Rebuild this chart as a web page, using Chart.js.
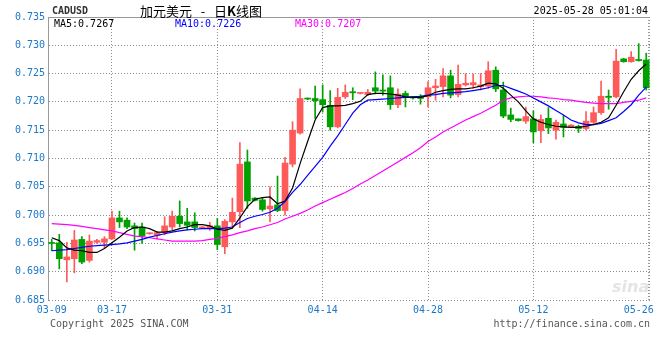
<!DOCTYPE html>
<html>
<head>
<meta charset="utf-8">
<title>CADUSD 日K线图</title>
<script src="https://cdn.jsdelivr.net/npm/chart.js@4.4.1/dist/chart.umd.min.js"></script>
<style>
  body { margin: 0; background: #fff; }
  #wrap { position: relative; width: 660px; height: 360px; font-family: 'DejaVu Sans Mono', monospace; font-size: 10px; }
  #wrap canvas { position: absolute; left: 0; top: 0; }
  .txt { position: absolute; white-space: pre; line-height: 12px; }
</style>
</head>
<body>
<div id="wrap">
  <canvas id="chart1" width="660" height="360"></canvas>
  <div class="txt" style="left:52px;top:5px;font-weight:bold;color:#333;">CADUSD</div>
  <div class="txt" style="left:140px;top:3px;font-family:'Noto Sans CJK SC';font-size:13px;line-height:15px;color:#000;">加元美元   -   日<b>K</b>线图</div>
  <div class="txt" style="right:12px;top:5px;color:#000;">2025-05-28 05:01:04</div>
  <div class="txt" id="lg5" style="left:54px;top:18px;color:#000;"></div>
  <div class="txt" id="lg10" style="left:175px;top:18px;color:#0000ff;"></div>
  <div class="txt" id="lg30" style="left:295px;top:18px;color:#ff00ff;"></div>
  <div class="txt" style="left:612px;top:278px;font-family:'DejaVu Sans';font-style:italic;font-weight:bold;font-size:16px;line-height:18px;color:#e4e4e4;">sina</div>
  <div class="txt" style="left:50px;top:318px;color:#555;">Copyright 2025 SINA.COM</div>
  <div class="txt" style="right:10px;top:318px;color:#555;">http://finance.sina.com.cn</div>
</div>
<script>
// dates (one candle per day)
const days = [
  '03-09','03-10','03-11','03-12','03-13','03-14','03-15','03-16','03-17','03-18',
  '03-19','03-20','03-21','03-22','03-23','03-24','03-25','03-26','03-27','03-28',
  '03-29','03-30','03-31','04-01','04-02','04-03','04-04','04-05','04-06','04-07',
  '04-08','04-09','04-10','04-11','04-12','04-13','04-14','04-15','04-16','04-17',
  '04-18','04-19','04-20','04-21','04-22','04-23','04-24','04-25','04-26','04-27',
  '04-28','04-29','04-30','05-01','05-02','05-03','05-04','05-05','05-06','05-07',
  '05-08','05-09','05-10','05-11','05-12','05-13','05-14','05-15','05-16','05-17',
  '05-18','05-19','05-20','05-21','05-22','05-23','05-24','05-25','05-26','05-27'
];
const tickDays = ['03-09','03-17','03-31','04-14','04-28','05-12','05-26'];
const gridDays = ['03-17','03-31','04-14','04-28','05-12'];

const opens = [
  0.6951,0.6951,0.6921,0.6923,0.6957,0.6920,0.6952,0.6952,0.6958,0.6995,
  0.6991,0.6981,0.6979,0.6967,0.6964,0.6969,0.6979,0.6998,0.6988,0.6988,
  0.6977,0.6977,0.6981,0.6944,0.6988,0.7006,0.7094,0.7030,0.7027,0.7011,
  0.7018,0.7008,0.7090,0.7145,0.7206,0.7206,0.7204,0.7194,0.7156,0.7209,
  0.7218,0.7215,0.7213,0.7225,0.7221,0.7225,0.7195,0.7215,0.7208,0.7210,
  0.7209,0.7225,0.7227,0.7246,0.7213,0.7230,0.7230,0.7227,0.7228,0.7256,
  0.7221,0.7177,0.7170,0.7166,0.7170,0.7149,0.7171,0.7150,0.7161,0.7156,
  0.7157,0.7153,0.7164,0.7181,0.7210,0.7209,0.7276,0.7271,0.7275,0.7274
];
const closes = [
  0.6950,0.6923,0.6926,0.6956,0.6917,0.6954,0.6955,0.6958,0.6995,0.6988,
  0.6979,0.6976,0.6963,0.6968,0.6969,0.6981,0.6998,0.6985,0.6982,0.6978,
  0.6979,0.6981,0.6948,0.6989,0.7005,0.7090,0.7025,0.7026,0.7010,0.7016,
  0.7008,0.7092,0.7150,0.7206,0.7205,0.7202,0.7195,0.7156,0.7208,0.7217,
  0.7216,0.7216,0.7217,0.7219,0.7219,0.7195,0.7214,0.7209,0.7207,0.7206,
  0.7225,0.7228,0.7246,0.7212,0.7231,0.7233,0.7234,0.7230,0.7255,0.7223,
  0.7175,0.7169,0.7167,0.7174,0.7147,0.7169,0.7154,0.7164,0.7155,0.7159,
  0.7153,0.7166,0.7181,0.7210,0.7208,0.7272,0.7271,0.7279,0.7273,0.7225
];
const highs = [
  0.6957,0.6966,0.6952,0.6973,0.6962,0.6965,0.6957,0.6962,0.7007,0.7007,
  0.6995,0.6986,0.6986,0.6969,0.6971,0.6997,0.7007,0.7025,0.7012,0.7004,
  0.6980,0.6987,0.6994,0.6992,0.7030,0.7128,0.7115,0.7031,0.7031,0.7050,
  0.7069,0.7102,0.7165,0.7223,0.7207,0.7228,0.7230,0.7220,0.7224,0.7230,
  0.7225,0.7217,0.7222,0.7253,0.7248,0.7246,0.7223,0.7219,0.7210,0.7213,
  0.7236,0.7240,0.7259,0.7256,0.7265,0.7250,0.7249,0.7250,0.7271,0.7262,
  0.7235,0.7189,0.7170,0.7191,0.7184,0.7177,0.7190,0.7168,0.7176,0.7160,
  0.7159,0.7183,0.7191,0.7237,0.7221,0.7293,0.7277,0.7289,0.7303,0.7286
];
const lows = [
  0.6937,0.6905,0.6882,0.6898,0.6914,0.6917,0.6950,0.6942,0.6957,0.6978,
  0.6976,0.6938,0.6950,0.6966,0.6958,0.6965,0.6974,0.6979,0.6974,0.6972,
  0.6976,0.6973,0.6939,0.6932,0.6979,0.6978,0.7012,0.7025,0.7007,0.6988,
  0.7006,0.7000,0.7085,0.7143,0.7204,0.7171,0.7182,0.7150,0.7154,0.7206,
  0.7204,0.7214,0.7211,0.7214,0.7212,0.7187,0.7190,0.7191,0.7205,0.7196,
  0.7191,0.7203,0.7209,0.7207,0.7209,0.7228,0.7224,0.7221,0.7224,0.7218,
  0.7172,0.7165,0.7166,0.7162,0.7128,0.7128,0.7144,0.7134,0.7138,0.7155,
  0.7146,0.7150,0.7159,0.7178,0.7187,0.7207,0.7270,0.7270,0.7272,0.7221
];
const ma5 = [
  0.6960,0.6955,0.6942,0.6938,0.6937,0.6934,0.6934,0.6941,0.6951,0.6961,
  0.6972,0.6978,0.6979,0.6976,0.6970,0.6970,0.6972,0.6976,0.6979,0.6983,
  0.6983,0.6981,0.6975,0.6973,0.6977,0.6995,0.7015,0.7028,0.7031,0.7032,
  0.7020,0.7025,0.7048,0.7091,0.7130,0.7168,0.7190,0.7193,0.7193,0.7194,
  0.7197,0.7201,0.7213,0.7215,0.7215,0.7214,0.7212,0.7209,0.7208,0.7208,
  0.7211,0.7217,0.7220,0.7222,0.7223,0.7223,0.7225,0.7228,0.7233,0.7232,
  0.7224,0.7212,0.7200,0.7184,0.7170,0.7164,0.7160,0.7157,0.7156,0.7155,
  0.7155,0.7157,0.7160,0.7164,0.7172,0.7194,0.7218,0.7240,0.7255,0.7267
];
const ma10 = [
  0.6937,0.6938,0.6939,0.6941,0.6943,0.6945,0.6946,0.6947,0.6948,0.6949,
  0.6951,0.6954,0.6957,0.6961,0.6964,0.6967,0.6970,0.6972,0.6974,0.6975,
  0.6976,0.6976,0.6976,0.6977,0.6979,0.6987,0.6994,0.6998,0.7001,0.7005,
  0.7012,0.7024,0.7040,0.7054,0.7070,0.7086,0.7102,0.7122,0.7140,0.7160,
  0.7180,0.7195,0.7203,0.7204,0.7205,0.7206,0.7207,0.7208,0.7209,0.7210,
  0.7212,0.7213,0.7215,0.7216,0.7217,0.7218,0.7220,0.7222,0.7225,0.7229,
  0.7229,0.7224,0.7219,0.7214,0.7207,0.7200,0.7193,0.7185,0.7177,0.7168,
  0.7163,0.7160,0.7160,0.7162,0.7167,0.7172,0.7183,0.7195,0.7212,0.7226
];
const ma30 = [
  0.6985,0.6984,0.6983,0.6982,0.6980,0.6978,0.6976,0.6974,0.6972,0.6969,
  0.6966,0.6963,0.6962,0.6960,0.6958,0.6956,0.6954,0.6954,0.6954,0.6954,
  0.6955,0.6957,0.6959,0.6962,0.6965,0.6969,0.6972,0.6976,0.6979,0.6983,
  0.6987,0.6993,0.6998,0.7003,0.7009,0.7016,0.7022,0.7028,0.7034,0.7040,
  0.7047,0.7055,0.7062,0.7070,0.7078,0.7086,0.7094,0.7102,0.7110,0.7119,
  0.7130,0.7138,0.7147,0.7154,0.7161,0.7168,0.7174,0.7180,0.7187,0.7194,
  0.7203,0.7207,0.7209,0.7210,0.7210,0.7209,0.7207,0.7206,0.7204,0.7203,
  0.7201,0.7199,0.7198,0.7197,0.7197,0.7197,0.7199,0.7201,0.7203,0.7207
];

const upColor = '#ff5a5a';
const downColor = '#00a000';
const axisBlue = '#1c78c8';
const gridGray = '#8c8c8c';

Chart.defaults.font.family = "'DejaVu Sans Mono', monospace";
Chart.defaults.font.size = 10;

// top border solid, right border dotted
const framePlugin = {
  id: 'frame',
  beforeDatasetsDraw(chart) {
    const { ctx, chartArea: a } = chart;
    ctx.save();
    ctx.strokeStyle = '#999';
    ctx.lineWidth = 1;
    ctx.beginPath();
    ctx.moveTo(a.left, Math.round(a.top) + 0.5);
    ctx.lineTo(a.right, Math.round(a.top) + 0.5);
    ctx.stroke();
    ctx.setLineDash([1, 2]);
    ctx.lineWidth = 2;
    ctx.beginPath();
    ctx.moveTo(a.right - 1, a.top);
    ctx.lineTo(a.right - 1, a.bottom);
    ctx.stroke();
    ctx.restore();
  }
};

function createChart() {
  const candleColors = opens.map((o, i) => closes[i] >= o ? upColor : downColor);

  document.getElementById('lg5').textContent = 'MA5:' + ma5[ma5.length - 1].toFixed(4);
  document.getElementById('lg10').textContent = 'MA10:' + ma10[ma10.length - 1].toFixed(4);
  document.getElementById('lg30').textContent = 'MA30:' + ma30[ma30.length - 1].toFixed(4);

  new Chart(document.getElementById('chart1'), {
    type: 'bar',
    data: {
      labels: days,
      datasets: [
        {
          type: 'line', label: 'MA5', data: ma5, order: 0,
          borderColor: '#000000', borderWidth: 1.2, pointRadius: 0, tension: 0
        },
        {
          type: 'line', label: 'MA10', data: ma10, order: 0,
          borderColor: '#0000ff', borderWidth: 1.2, pointRadius: 0, tension: 0
        },
        {
          type: 'line', label: 'MA30', data: ma30, order: 0,
          borderColor: '#ff00ff', borderWidth: 1.2, pointRadius: 0, tension: 0
        },
        {
          label: 'body', order: 1, grouped: false,
          data: opens.map((o, i) => [o, closes[i]]),
          backgroundColor: candleColors,
          barThickness: 6, minBarLength: 1, borderWidth: 0
        },
        {
          label: 'wick', order: 2, grouped: false,
          data: lows.map((l, i) => [l, highs[i]]),
          backgroundColor: candleColors,
          barThickness: 1, minBarLength: 1, borderWidth: 0
        }
      ]
    },
    options: {
      responsive: false,
      animation: false,
      devicePixelRatio: 1,
      layout: { padding: { left: 0, right: 10, top: 17, bottom: 0 } },
      plugins: {
        legend: { display: false },
        tooltip: { enabled: false },
        title: { display: false }
      },
      scales: {
        x: {
          afterFit: (scale) => { scale.height = 60; },
          grid: {
            offset: false,
            drawTicks: false,
            color: (ctx) => (ctx.tick && gridDays.includes(days[ctx.index])) ? gridGray : 'rgba(0,0,0,0)'
          },
          border: { display: false, dash: [1, 2] },
          ticks: {
            autoSkip: false,
            maxRotation: 0,
            padding: 4,
            color: axisBlue,
            callback: function(value, index) {
              return tickDays.includes(days[index]) ? days[index] : '';
            }
          }
        },
        y: {
          min: 0.685,
          max: 0.735,
          afterFit: (scale) => { scale.width = 48; },
          grid: { drawTicks: false, color: gridGray },
          border: { display: true, color: '#999', width: 1, dash: [1, 2] },
          ticks: {
            stepSize: 0.005,
            padding: 3,
            color: axisBlue,
            callback: function(value) {
              return value.toFixed(3);
            }
          }
        }
      }
    },
    plugins: [framePlugin]
  });
}

createChart();
</script>
</body>
</html>
